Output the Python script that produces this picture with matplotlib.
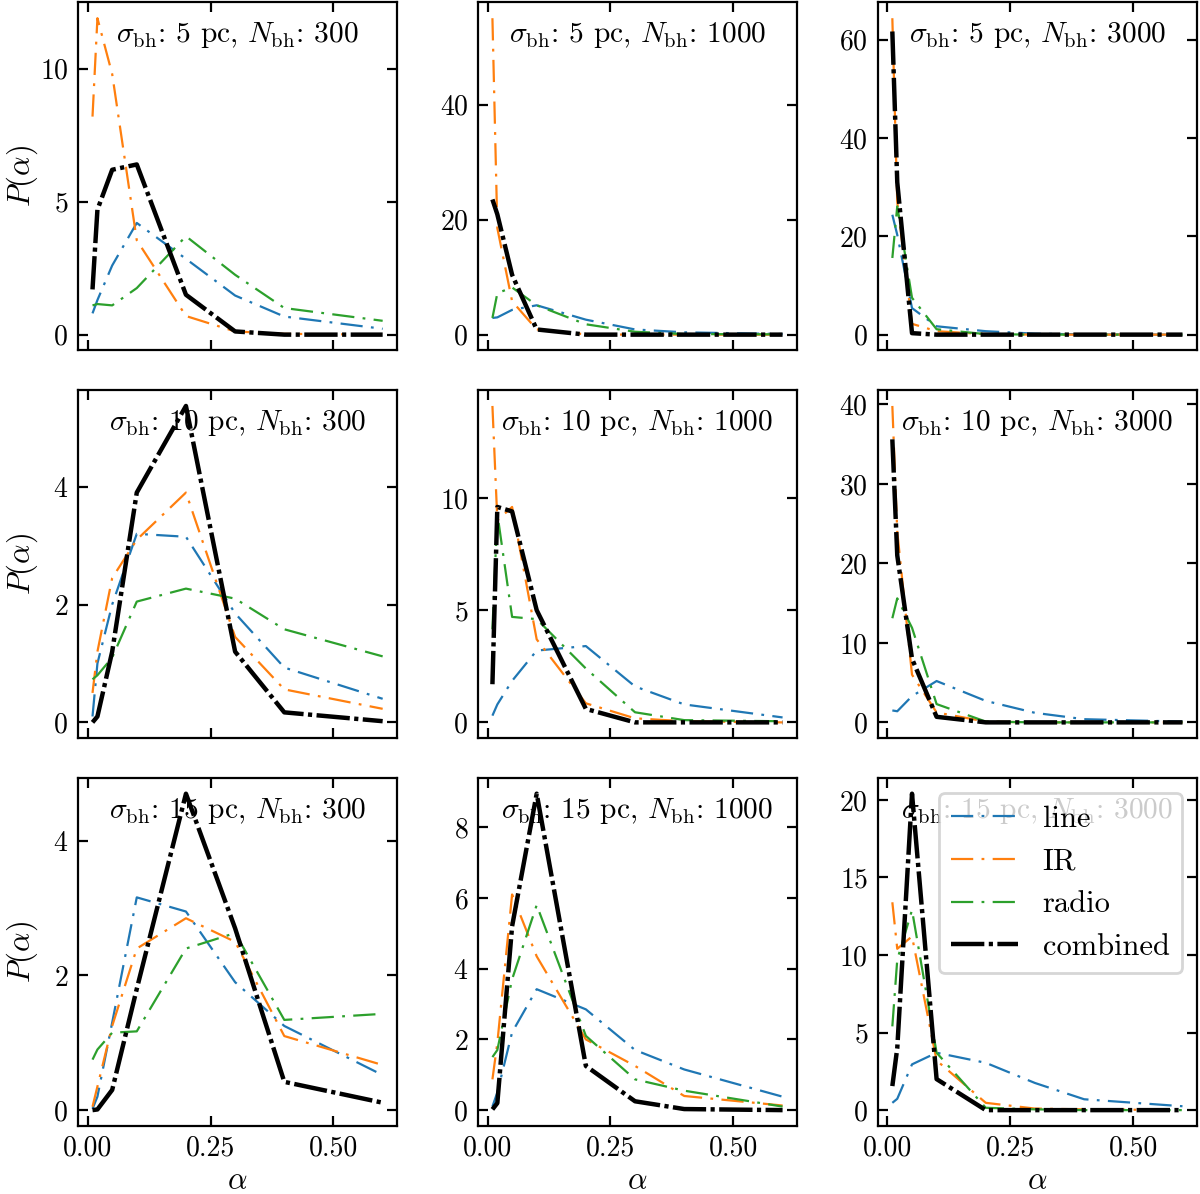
import numpy as np
import matplotlib
matplotlib.use('Agg')
import matplotlib.pyplot as plt
from matplotlib.ticker import MultipleLocator

plt.rcParams['font.family'] = 'serif'
plt.rcParams['font.serif'] = ['cmr10']
plt.rcParams['mathtext.fontset'] = 'cm'
plt.rcParams['axes.formatter.use_mathtext'] = True
plt.rcParams['font.size'] = 10
plt.rcParams['lines.scale_dashes'] = False

alpha = [0.01, 0.02, 0.05, 0.1, 0.2, 0.3, 0.4, 0.6]
sigmas = [5, 10, 15]
nbhs = [300, 1000, 3000]

# P(alpha) per panel, row = sigma, column = N_bh
p_line = [
    [[0.8, 1.3, 2.6, 4.2, 2.85, 1.47, 0.68, 0.22],
     [2.9, 3.0, 4.3, 5.1, 2.6, 0.9, 0.4, 0.1],
     [24.4, 20.3, 5.4, 1.7, 0.7, 0.2, 0.05, 0.0]],
    [[0.1, 1.0, 2.0, 3.2, 3.15, 1.85, 0.93, 0.4],
     [0.3, 0.8, 1.85, 3.2, 3.4, 1.6, 0.8, 0.22],
     [1.5, 1.4, 3.3, 5.2, 2.7, 1.2, 0.4, 0.1]],
    [[0.02, 0.2, 1.3, 3.16, 2.95, 1.9, 1.25, 0.52],
     [0.1, 0.5, 2.2, 3.42, 2.85, 1.7, 1.15, 0.38],
     [0.47, 0.73, 2.95, 3.7, 3.05, 1.75, 0.7, 0.25]],
]
p_ir = [
    [[8.2, 11.9, 9.8, 3.55, 0.7, 0.12, 0.03, 0.0],
     [55.0, 18.5, 5.8, 0.9, 0.05, 0.0, 0.0, 0.0],
     [64.4, 27.0, 2.2, 0.7, 0.1, 0.0, 0.0, 0.0]],
    [[0.5, 1.2, 2.45, 3.1, 3.9, 1.45, 0.56, 0.23],
     [14.1, 9.0, 9.6, 3.7, 0.85, 0.18, 0.05, 0.0],
     [39.8, 24.0, 6.0, 1.25, 0.1, 0.0, 0.0, 0.0]],
    [[0.05, 0.35, 1.25, 2.4, 2.85, 2.5, 1.1, 0.67],
     [0.87, 1.9, 6.1, 4.35, 2.0, 1.25, 0.4, 0.13],
     [13.4, 10.4, 11.2, 3.2, 0.47, 0.1, 0.05, 0.0]],
]
p_radio = [
    [[1.1, 1.15, 1.1, 1.75, 3.7, 2.25, 1.0, 0.52],
     [2.9, 7.2, 8.2, 5.1, 1.8, 0.5, 0.1, 0.05],
     [15.6, 26.1, 7.5, 1.1, 0.1, 0.0, 0.0, 0.0]],
    [[0.73, 0.8, 1.1, 2.05, 2.27, 2.1, 1.58, 1.12],
     [4.15, 9.3, 4.7, 4.6, 2.4, 0.45, 0.1, 0.05],
     [13.1, 15.6, 11.9, 2.3, 0.1, 0.0, 0.0, 0.0]],
    [[0.75, 0.9, 1.15, 1.17, 2.4, 2.63, 1.34, 1.43],
     [1.5, 1.7, 3.7, 5.8, 2.1, 0.87, 0.55, 0.1],
     [5.4, 9.7, 12.9, 3.7, 0.15, 0.05, 0.0, 0.0]],
]
p_comb = [
    [[1.7, 4.7, 6.2, 6.4, 1.5, 0.12, 0.0, 0.0],
     [23.5, 20.9, 10.4, 0.9, 0.0, 0.0, 0.0, 0.0],
     [61.7, 31.0, 0.3, 0.0, 0.0, 0.0, 0.0, 0.0]],
    [[0.0, 0.1, 1.2, 3.9, 5.37, 1.2, 0.17, 0.02],
     [1.7, 9.6, 9.4, 5.0, 0.6, 0.0, 0.0, 0.0],
     [35.6, 21.0, 8.0, 0.7, 0.0, 0.0, 0.0, 0.0]],
    [[0.0, 0.01, 0.3, 1.8, 4.7, 2.7, 0.42, 0.11],
     [0.02, 0.2, 5.2, 8.95, 1.25, 0.25, 0.03, 0.0],
     [1.55, 4.0, 20.4, 2.0, 0.0, 0.0, 0.0, 0.0]],
]

# y tick spacing of each panel
ystep = [[5, 20, 20], [2, 5, 10], [2, 2, 5]]

fig, axes = plt.subplots(3, 3, figsize=(6, 5.97), sharex=True)
plt.subplots_adjust(left=0.065, right=0.9975, top=0.998, bottom=0.057,
                    wspace=0.253, hspace=0.114)

thin = (0, (8, 3, 1, 3))
thick = (0, (12, 1.6, 1.5, 1.6))

for i in range(3):
    for j in range(3):
        ax = axes[i, j]
        ax.plot(alpha, p_line[i][j], color='C0', lw=0.8, ls=thin, label='line')
        ax.plot(alpha, p_ir[i][j], color='C1', lw=0.8, ls=thin, label='IR')
        ax.plot(alpha, p_radio[i][j], color='C2', lw=0.8, ls=thin, label='radio')
        ax.plot(alpha, p_comb[i][j], color='k', lw=1.6, ls=thick, label='combined')
        ax.text(0.5, 0.905,
                r'$\sigma_{\rm bh}$: %d pc, $N_{\rm bh}$: %d' % (sigmas[i], nbhs[j]),
                transform=ax.transAxes, ha='center', va='center', fontsize=10.6)
        ax.tick_params(direction='in', top=True, right=True)
        ax.set_xticks([0.0, 0.25, 0.5])
        ax.yaxis.set_major_locator(MultipleLocator(ystep[i][j]))
        if j == 0:
            ax.set_ylabel(r'$P(\alpha)$', fontsize=11)
            ax.yaxis.set_label_coords(-0.12, 0.5)
        if i == 2:
            ax.set_xlabel(r'$\alpha$', fontsize=11, labelpad=2)

axes[2, 2].legend(loc='upper right', handlelength=2.2, fontsize=11)
axes[2, 2].set_xticklabels(['0.00', '0.25', '0.50'])

fig.savefig('out.png', dpi=200)
